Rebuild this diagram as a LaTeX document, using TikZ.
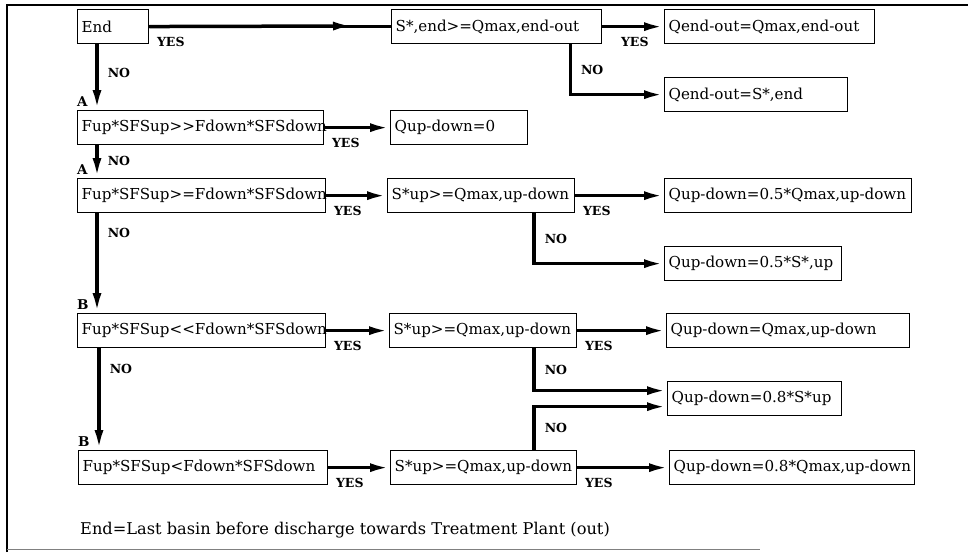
\documentclass[tikz,border=0pt]{standalone}
\usepackage{fontspec}
\setmainfont{DejaVu Serif}[Ligatures=TeXOff]
\usepackage{tikz}
\usetikzlibrary{positioning,arrows.meta,calc}
\newcommand{\boxfont}{\fontsize{15.1}{18}\selectfont\exhyphenpenalty=10000 \hyphenpenalty=10000 }
\newcommand{\labfont}{\fontsize{12.5}{14}\selectfont\bfseries}
\tikzset{
  flowarrow/.style={-{Latex[length=20pt,width=9pt]}, line width=3.5pt},
  flowline/.style={line width=3.5pt},
  testbox/.style={draw, line width=1.3pt, anchor=north west, minimum height=34pt, inner xsep=4pt, inner ysep=0pt, align=left, font=\boxfont},
  yeslab/.style={font=\labfont, anchor=north west, inner sep=0pt, xshift=6pt, yshift=-9pt},
  nolab/.style={font=\labfont, anchor=west, inner sep=0pt, xshift=9pt},
  pointlab/.style={font=\labfont\fontsize{13.5}{15}\selectfont, anchor=south west, inner sep=0pt, yshift=3pt}
}

\begin{document}
\begin{tikzpicture}[x=1pt, y=-1pt, >=Latex]
  \useasboundingbox (0,0) rectangle (968,552);
  \draw[line width=2.5pt] (7,552) -- (7,5) -- (968,5);
  \draw[gray, line width=1pt] (7,549) -- (760,549);

  \node[testbox, text width=63pt] (endq) at (77,9) {End};
  \node[testbox, text width=202pt] (sendq) at (391,9) {S*,end>=Qmax,end-out};
  \node[testbox, text width=202pt] (qend1) at (664,9) {Qend-out=Qmax,end-out};
  \node[testbox, text width=175pt] (qend2) at (664,77) {Qend-out=S*,end};

  \node[testbox, text width=238pt] (ffa) at (77,110) {Fup*SFSup>>Fdown*SFSdown};
  \node[testbox, text width=129pt] (qzero) at (390,110) {Qup-down=0};

  \node[testbox, text width=240pt] (ffb) at (77,178) {Fup*SFSup>=Fdown*SFSdown};
  \node[testbox, text width=179pt] (sb) at (387,178) {S*up>=Qmax,up-down};
  \node[testbox, text width=239pt] (qb1) at (664,178) {Qup-down=0.5*Qmax,up-down};
  \node[testbox, text width=169pt] (qb2) at (664,246) {Qup-down=0.5*S*,up};

  \node[testbox, text width=240pt] (ffc) at (77,313) {Fup*SFSup<<Fdown*SFSdown};
  \node[testbox, text width=179pt] (sc) at (389,313) {S*up>=Qmax,up-down};
  \node[testbox, text width=235pt] (qc1) at (666,313) {Qup-down=Qmax,up-down};
  \node[testbox, text width=166pt] (qc2) at (667,381) {Qup-down=0.8*S*up};

  \node[testbox, text width=241pt] (ffd) at (78,450) {Fup*SFSup<Fdown*SFSdown};
  \node[testbox, text width=178pt] (sd) at (390,450) {S*up>=Qmax,up-down};
  \node[testbox, text width=237pt] (qd1) at (669,450) {Qup-down=0.8*Qmax,up-down};

  \node[pointlab] (pa1) at (ffa.north west) {A};
  \node[pointlab] (pa2) at (ffb.north west) {A};
  \node[pointlab] (pb1) at (ffc.north west) {B};
  \node[pointlab] (pb2) at (ffd.north west) {B};

  \coordinate (mid1) at (353,26);
  \draw[flowline] (endq) -- (sendq);
  \draw[flowarrow] (endq) -- node[yeslab, at start]{YES} (mid1);
  \draw[flowarrow] (sendq) -- node[yeslab, at start, xshift=11pt]{YES} (qend1);
  \draw[flowarrow] ([xshift=-32pt]sendq.south east) |- node[nolab, pos=0.25]{NO} (qend2);
  \draw[flowarrow] ([xshift=20pt]endq.south west) -- node[nolab, pos=0.43]{NO} ([xshift=20pt]ffa.north west);

  \draw[flowarrow] (ffa) -- node[yeslab, at start]{YES} (qzero);
  \draw[flowarrow] ([xshift=20pt]ffa.south west) -- node[nolab, pos=0.47]{NO} ([xshift=20pt]ffb.north west);

  \draw[flowarrow] (ffb) -- node[yeslab, at start]{YES} (sb);
  \draw[flowarrow] (sb) -- node[yeslab, at start]{YES} (qb1);
  \draw[flowarrow] ([xshift=147pt]sb.south west) |- node[nolab, pos=0.25]{NO} (qb2);
  \draw[flowarrow] ([xshift=20pt]ffb.south west) -- node[nolab, pos=0.2]{NO} ([xshift=20pt]ffc.north west);

  \draw[flowarrow] (ffc) -- node[yeslab, at start]{YES} (sc);
  \draw[flowarrow] (sc) -- node[yeslab, at start]{YES} (qc1);
  \draw[flowarrow] ([xshift=145pt]sc.south west) |- node[nolab, pos=0.25]{NO} ([yshift=8pt]qc2.west);
  \draw[flowarrow] ([xshift=22pt]ffc.south west) -- node[nolab, pos=0.2]{NO} ([xshift=21pt]ffd.north west);

  \draw[flowarrow] (ffd) -- node[yeslab, at start]{YES} (sd);
  \draw[flowarrow] (sd) -- node[yeslab, at start]{YES} (qd1);
  \draw[flowarrow] ([xshift=144pt]sd.north west) |- node[nolab, pos=0.25]{NO} ([yshift=-8pt]qc2.west);

  \node[anchor=west, inner sep=0pt, font=\fontsize{16.2}{18}\selectfont] (note) at (80,530) {End=Last basin before discharge towards Treatment Plant (out)};
\end{tikzpicture}
\end{document}
